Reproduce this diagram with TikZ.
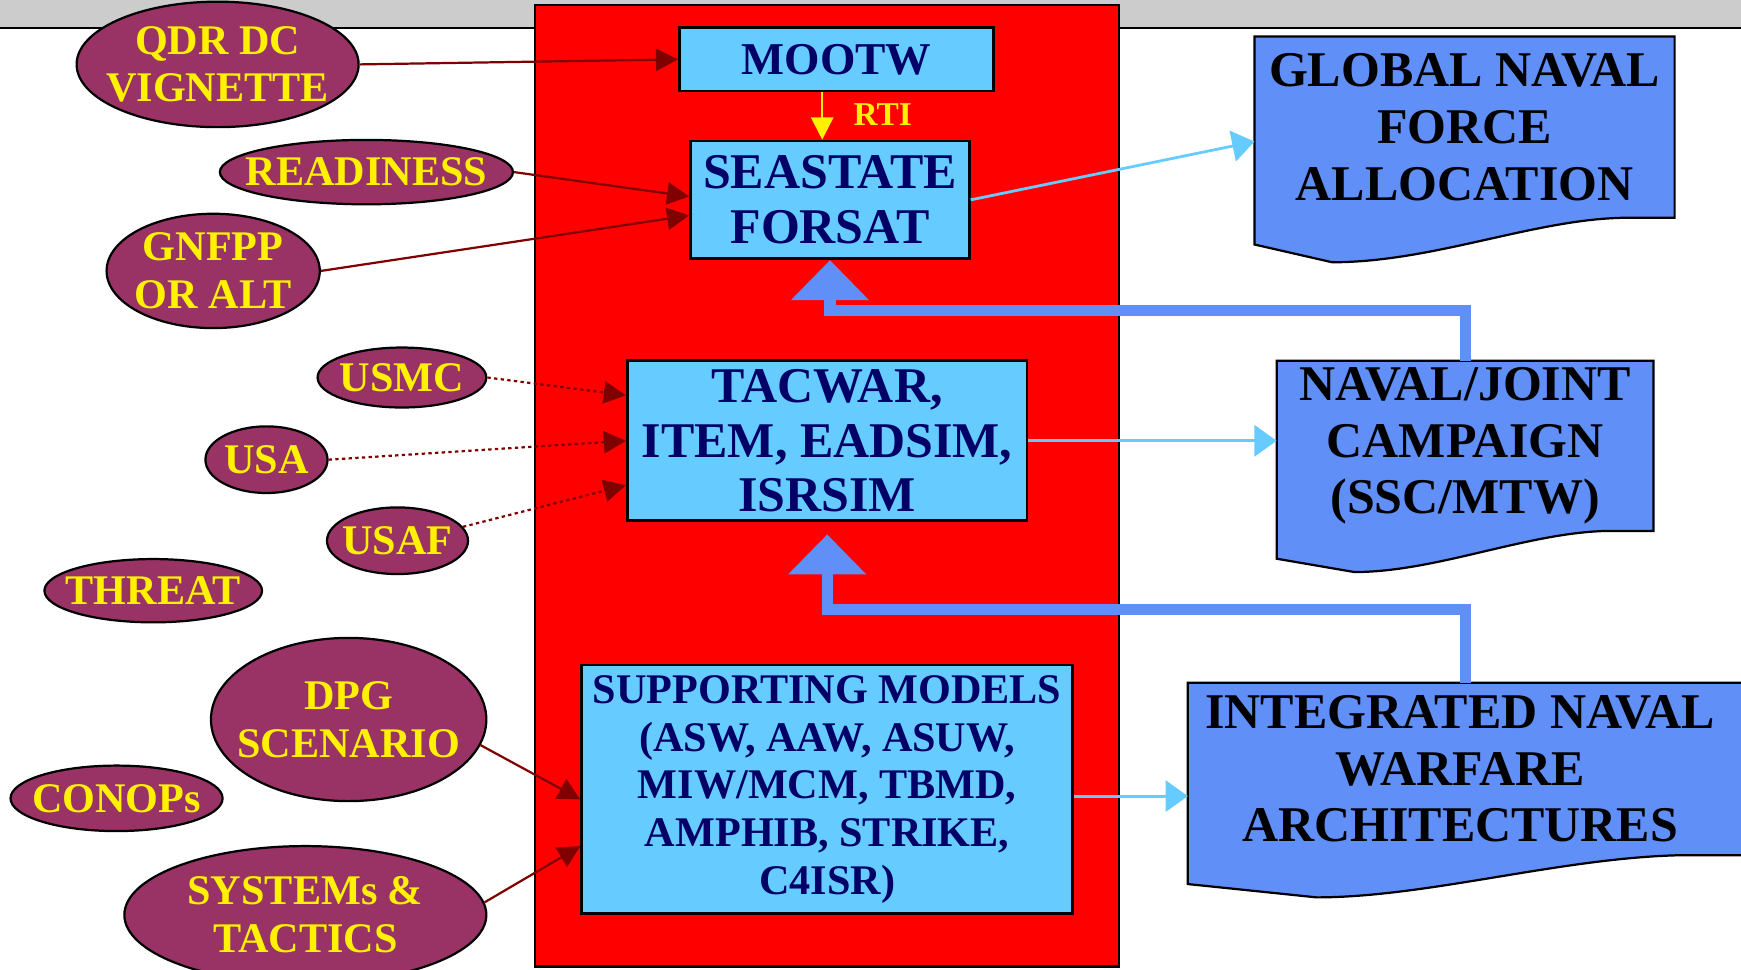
\documentclass[tikz,border=0pt]{standalone}
\usepackage{fontspec}
\setmainfont{Liberation Serif}
\usetikzlibrary{shapes.geometric,arrows.meta,calc,backgrounds}
\definecolor{bandgray}{HTML}{CCCCCC}
\definecolor{srcfill}{HTML}{993366}
\definecolor{modelfill}{HTML}{66CCFF}
\definecolor{modeltext}{HTML}{000066}
\definecolor{docfill}{HTML}{608FF8}
\definecolor{inred}{HTML}{800000}
\begin{document}
\begin{tikzpicture}[x=1pt,y=-1pt,
    src/.style={ellipse,draw=black,line width=2pt,fill=srcfill,text=yellow,inner sep=-25pt,align=center,
        font=\fontsize{38}{43}\selectfont\bfseries},
    model/.style={rectangle,draw=black,line width=2.5pt,fill=modelfill,text=modeltext,inner sep=0pt,align=center,
        font=\fontsize{45}{49}\selectfont\bfseries},
    docbox/.style={rectangle,inner sep=0pt,align=center,font=\fontsize{45}{51}\selectfont\bfseries},
    docshape/.style={fill=docfill,draw=black,line width=2pt},
    inflow/.style={draw=inred,line width=2pt,-{Triangle[length=20pt,width=20pt]}},
    inflowdot/.style={inflow,dash pattern=on 3pt off 3pt},
    result/.style={draw=modelfill,line width=2.5pt,-{Triangle[length=20pt,width=28pt]}},
    backlink/.style={draw=docfill,line width=10pt,-{Triangle[length=36pt,width=68pt]}}]
    \useasboundingbox (0,0) rectangle (1568,873);
    \clip (0,0) rectangle (1568,873);

    % inputs
    \node[src,minimum width=254pt,minimum height=113pt] (qdr) at (196,58) {QDR DC\\VIGNETTE};
    \node[src,minimum width=264pt,minimum height=58pt] (ready) at (330,155) {READINESS};
    \node[src,minimum width=192pt,minimum height=103pt] (gnf) at (192,244) {GNFPP\\OR ALT};
    \node[src,minimum width=152pt,minimum height=54pt] (usmc) at (362,340) {USMC};
    \node[src,minimum width=110pt,minimum height=60pt] (usa) at (240,414) {USA};
    \node[src,minimum width=127pt,minimum height=60pt] (usaf) at (358,487) {USAF};
    \node[src,minimum width=196pt,minimum height=57pt] (threat) at (138,532) {THREAT};
    \node[src,minimum width=248pt,minimum height=147pt] (dpg) at (314,648) {DPG\\SCENARIO};
    \node[src,minimum width=191pt,minimum height=59pt] (conops) at (105,719) {CONOPs};
    \node[src,minimum width=326pt,minimum height=124pt] (sys) at (275,824) {SYSTEMs \&\\TACTICS};

    % models
    \node[model,minimum width=283pt,minimum height=57pt,font=\fontsize{41}{49}\selectfont\bfseries] (mootw) at (753.5,53.5) {MOOTW};
    \node[model,minimum width=251pt,minimum height=106pt] (sea) at (747.5,180) {SEASTATE\\FORSAT};
    \node[model,minimum width=360pt,minimum height=144pt] (tac) at (745,397) {TACWAR,\\ITEM, EADSIM,\\ISRSIM};
    \node[model,minimum width=442pt,minimum height=224pt,font=\fontsize{38}{43}\selectfont\bfseries] (sup) at (745,711)
        {SUPPORTING MODELS\\(ASW, AAW, ASUW,\\MIW/MCM, TBMD,\\AMPHIB, STRIKE,\\C4ISR)};
    \node[text=yellow,font=\fontsize{30}{30}\selectfont\bfseries] (rti) at (795,103) {RTI};

    % outputs
    \node[docbox,minimum width=378pt,minimum height=163pt] (glob) at (1319,114.5) {GLOBAL NAVAL\\FORCE\\ALLOCATION};
    \node[docbox,minimum width=339pt,minimum height=153pt] (navj) at (1319.5,401.5) {NAVAL/JOINT\\CAMPAIGN\\(SSC/MTW)};
    \node[docbox,minimum width=490pt,minimum height=155pt] (integ) at (1315,692.5) {INTEGRATED NAVAL\\WARFARE\\ARCHITECTURES};

    \begin{pgfonlayer}{background}
        \clip (0,0) rectangle (1568,873);
        \fill[bandgray] (0,0) rectangle (1568,25);
        \draw[line width=2pt] (0,25) -- (1568,25);
        \filldraw[fill=red,draw=black,line width=2pt] (482,4.5) rectangle (1008,870.5);
        \filldraw[docshape] (glob.north west) -- (glob.north east) -- (glob.south east)
            -- ($(glob.south west)+(330,0)$) .. controls ($(glob.south west)+(250,2)$) and ($(glob.south west)+(160,40)$)
            .. ($(glob.south west)+(70,40)$) -- ($(glob.south west)+(0,24)$) -- cycle;
        \filldraw[docshape] (navj.north west) -- (navj.north east) -- (navj.south east)
            -- ($(navj.south west)+(296,0)$) .. controls ($(navj.south west)+(224,2)$) and ($(navj.south west)+(143,37)$)
            .. ($(navj.south west)+(70,37)$) -- ($(navj.south west)+(0,25)$) -- cycle;
        \filldraw[docshape] (integ.north west) -- ($(integ.north east)+(30,0)$) -- ($(integ.south east)+(30,0)$)
            -- ($(integ.south west)+(445,0)$) .. controls ($(integ.south west)+(337,2)$) and ($(integ.south west)+(216,38)$)
            .. ($(integ.south west)+(116,38)$) -- ($(integ.south west)+(0,26)$) -- cycle;
    \end{pgfonlayer}

    % feeds into the models
    \draw[inflow] (qdr.east) -- (mootw.west);
    \draw[inflow] (ready.east) -- ($(sea.west)+(0,-3)$);
    \draw[inflow] (gnf.east) -- ($(sea.west)+(0,14)$);
    \draw[inflowdot] (usmc.east) -- ($(tac.west)+(0,-41)$);
    \draw[inflowdot] (usa.east) -- (tac.west);
    \draw[inflowdot] (usaf.12) -- ($(tac.west)+(0,40)$);
    \draw[inflow] (dpg.-11) -- ($(sup.west)+(0,9)$);
    \draw[inflow] (sys.4) -- ($(sup.west)+(0,51)$);

    \coordinate (rtitop) at ($(mootw.south)+(-13,0)$);
    \draw[draw=yellow,line width=2pt,-{Triangle[length=20pt,width=20pt]}] (rtitop) -- (rtitop |- sea.north);

    % results
    \draw[result] (sea.east) -- ($(glob.west)+(0,13)$);
    \draw[result] (tac.east) -- (tac.east -| navj.west);
    \draw[result] ($(sup.east)+(0,6)$) -- ($(sup.east -| integ.west)+(0,6)$);

    % feedback
    \draw[backlink] (navj.north) |- ($(sea.south)+(0,45)$) -- (sea.south);
    \draw[backlink] (navj.north |- integ.north) |- ($(tac.south)+(0,79)$) -- ($(tac.south)+(0,11)$);
\end{tikzpicture}
\end{document}
